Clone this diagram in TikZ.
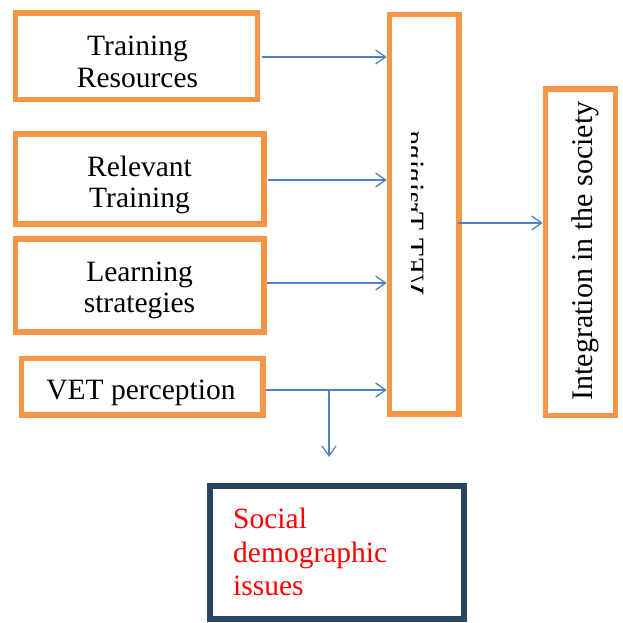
\documentclass[tikz,border=0pt]{standalone}
\usepackage{fontspec}
\setmainfont{Liberation Serif}
\usetikzlibrary{arrows.meta}
\definecolor{orng}{HTML}{F79646}
\definecolor{navy}{HTML}{2A4464}
\definecolor{arrblue}{HTML}{4F81BD}
\begin{document}
\begin{tikzpicture}[x=1pt,y=-1pt,
  obox/.style={draw=orng, line width=5.5pt, fill=white, rectangle, inner sep=0pt},
  nbox/.style={draw=navy, line width=6pt, fill=white, rectangle, inner sep=0pt},
  txt/.style={inner sep=0pt, font=\fontsize{29.5}{31}\selectfont},
  arr/.style={draw=arrblue, line width=1.3pt, -{Straight Barb[length=10pt,width=14pt,line width=1.3pt]}}]
\useasboundingbox (0,0) rectangle (623,622);

% boxes
\node[obox, minimum width=242.2pt, minimum height=86.5pt] (b1) at (136.4,56.25) {};
\node[obox, minimum width=248.5pt, minimum height=90pt] (b2) at (139.75,179) {};
\node[obox, minimum width=248.5pt, minimum height=93pt] (b3) at (139.75,285.5) {};
\node[obox, minimum width=241.5pt, minimum height=56.5pt] (b4) at (142.25,386.75) {};
\node[obox, minimum width=69.5pt, minimum height=399.5pt] (vet) at (424.25,214.25) {};
\node[obox, minimum width=70pt, minimum height=326.5pt] (int) at (580.5,252.25) {};
\node[nbox, minimum width=254pt, minimum height=133pt] (soc) at (337,552.5) {};

% texts
\node[txt, anchor=north, align=center, font=\fontsize{29.5}{32}\selectfont] (t1) at (137.5,35.5) {Training\\Resources};
\node[txt, anchor=north, align=center] (t2) at (139.5,156) {Relevant\\Training};
\node[txt, anchor=north, align=center] (t3) at (139.5,262) {Learning\\strategies};
\node[txt, anchor=north, align=center] (t4) at (141,380) {VET perception};
\node[txt, anchor=north west, align=left, text=red, font=\fontsize{29.5}{33.5}\selectfont] (t5) at (233,508) {Social\\demographic\\issues};
\node[txt, anchor=base, rotate=90, font=\fontsize{30}{32}\selectfont] (t6) at (592,251) {Integration in the society};
\begin{scope}
  \clip (411,20) rectangle (456,408);
  \begin{scope}[shift={(404,213)}]
    \node[txt, anchor=base, xscale=-1, rotate=90] (t7) at (0,0) {VET Training};
  \end{scope}
\end{scope}

% connectors
\draw[arr] ([xshift=2pt]b1.east |- 0,57) -- (vet.west |- 0,57);
\draw[arr] ([xshift=1pt]b2.east |- 0,180) -- (vet.west |- 0,180);
\draw[arr] (b3.east |- 0,283) -- (vet.west |- 0,283);
\draw[arr] (b4.east |- 0,390) -- (vet.west |- 0,390);
\coordinate (brk) at (329,390);
\coordinate (dn) at (329,457);
\draw[arr] (brk) -- (dn);
\draw[arr] ([xshift=-4pt]vet.east |- 0,223) -- (int.west |- 0,223);
\end{tikzpicture}
\end{document}
